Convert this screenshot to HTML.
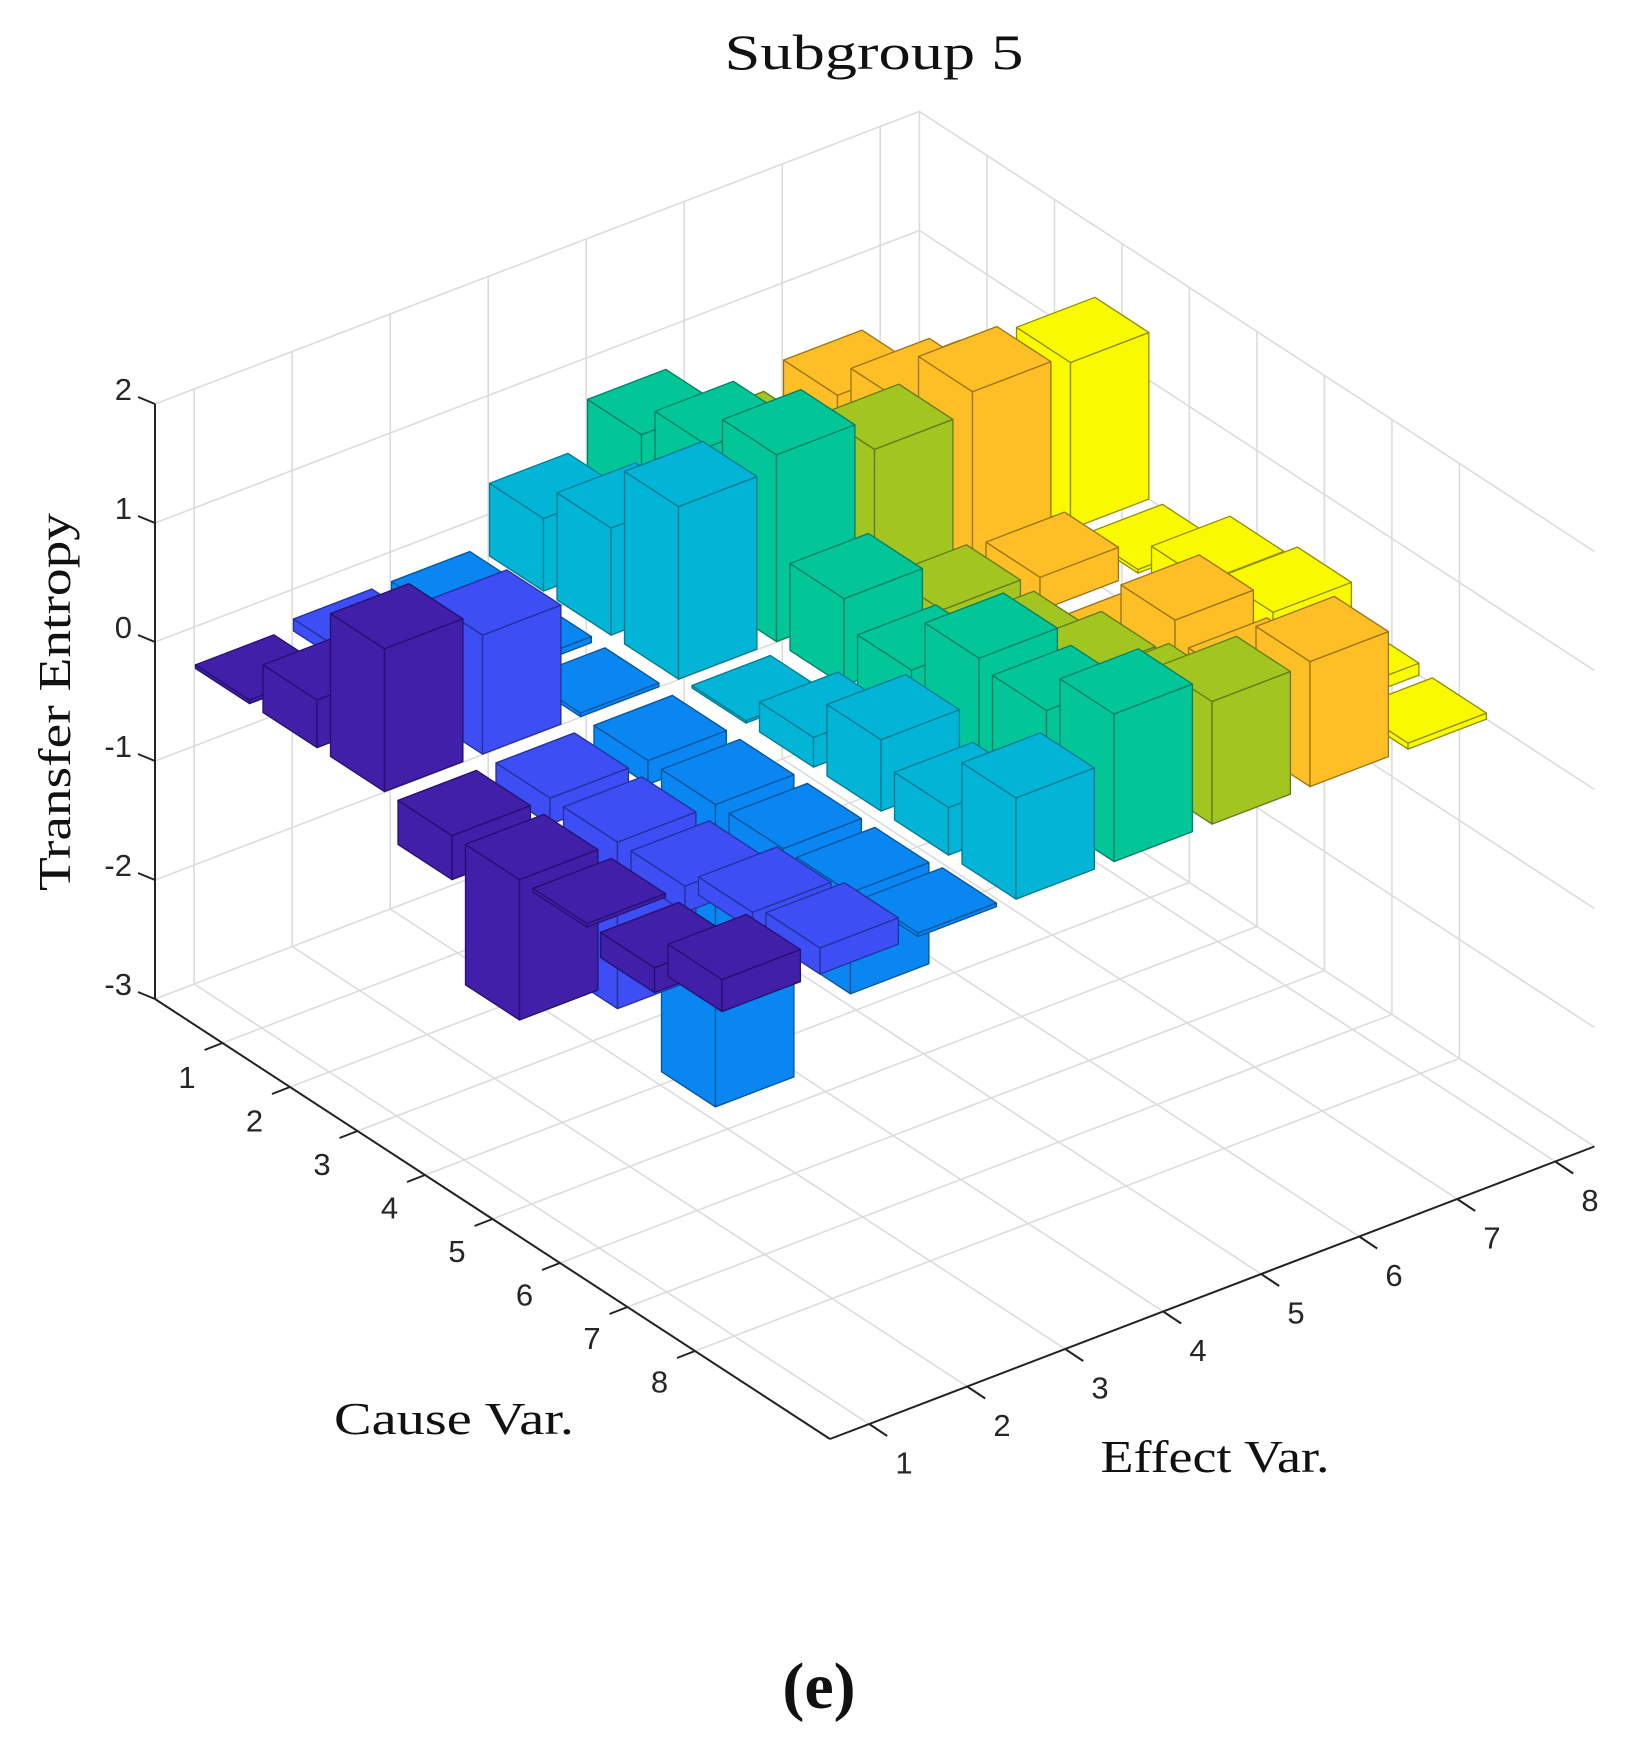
<!DOCTYPE html>
<html><head><meta charset="utf-8">
<style>
html,body{margin:0;padding:0;background:#fff;}
svg{display:block;}
</style></head>
<body>
<svg id="s" width="1632" height="1750" viewBox="0 0 1632 1750" xmlns="http://www.w3.org/2000/svg">
<rect width="1632" height="1750" fill="#fff"/>
<g id="grid" stroke="#dcdcdc" stroke-width="1.6" fill="none"></g>
<g id="bars" stroke-width="1.3" stroke-linejoin="round"></g>
<g id="axes" stroke="#222" stroke-width="2" fill="none"></g>
<g font-family="'Liberation Sans', Arial, sans-serif" font-size="31" fill="#262626">
<text x="132" y="400" text-anchor="end">2</text>
<text x="132" y="519" text-anchor="end">1</text>
<text x="132" y="638" text-anchor="end">0</text>
<text x="132" y="757" text-anchor="end">-1</text>
<text x="132" y="876" text-anchor="end">-2</text>
<text x="132" y="995" text-anchor="end">-3</text>
<g text-anchor="middle">
<text x="187" y="1088">1</text>
<text x="254.5" y="1131.5">2</text>
<text x="322" y="1175">3</text>
<text x="389.5" y="1218.5">4</text>
<text x="457" y="1262">5</text>
<text x="524.5" y="1305.5">6</text>
<text x="592" y="1349">7</text>
<text x="659.5" y="1392.5">8</text>
<text x="904" y="1473.5">1</text>
<text x="1002" y="1436">2</text>
<text x="1100" y="1398.5">3</text>
<text x="1198" y="1361">4</text>
<text x="1296" y="1323.5">5</text>
<text x="1394" y="1286">6</text>
<text x="1492" y="1248.5">7</text>
<text x="1590" y="1211">8</text>
</g>
</g>
<g font-family="'Liberation Serif', 'Times New Roman', serif" fill="#111">
<text x="874" y="69" font-size="50" text-anchor="middle" textLength="299" lengthAdjust="spacingAndGlyphs">Subgroup 5</text>
<text transform="translate(70,702) rotate(-90)" font-size="46" text-anchor="middle" textLength="378" lengthAdjust="spacingAndGlyphs">Transfer Entropy</text>
<text x="454" y="1434" font-size="46" text-anchor="middle" textLength="240" lengthAdjust="spacingAndGlyphs">Cause Var.</text>
<text x="1215" y="1472" font-size="46" text-anchor="middle" textLength="229" lengthAdjust="spacingAndGlyphs">Effect Var.</text>
<text x="819" y="1708" font-size="66" font-weight="bold" text-anchor="middle">(e)</text>
</g>
</svg>
<script>
(function(){
var NS="http://www.w3.org/2000/svg";
function P(i,j,z){return [96.2+67.5*i+98*j, 664.5+44*i-37.5*j-119*z];}
function line(g,a,b){var l=document.createElementNS(NS,"line");l.setAttribute("x1",a[0].toFixed(1));l.setAttribute("y1",a[1].toFixed(1));l.setAttribute("x2",b[0].toFixed(1));l.setAttribute("y2",b[1].toFixed(1));g.appendChild(l);}
var grid=document.getElementById("grid");
var j,i,z;
for(j=1;j<=8;j++){line(grid,P(0,j,-3),P(0,j,2));line(grid,P(0,j,-3),P(10,j,-3));}
for(z=-3;z<=2;z++){line(grid,P(0,0.6,z),P(0,8.4,z));line(grid,P(0,8.4,z),P(10,8.4,z));}
for(i=1;i<=8;i++){line(grid,P(i,8.4,-3),P(i,8.4,2));line(grid,P(i,0.6,-3),P(i,8.4,-3));}
line(grid,P(0,8.4,-3),P(0,8.4,2));
var ax=document.getElementById("axes");
line(ax,P(0,0.6,-3),P(0,0.6,2));
line(ax,P(0,0.6,-3),P(10,0.6,-3));
line(ax,P(10,0.6,-3),P(10,8.4,-3));
for(z=-3;z<=2;z++){var p=P(0,0.6,z);line(ax,p,[p[0]-17,p[1]-7]);}
for(i=1;i<=8;i++){var p=P(i,0.6,-3);line(ax,p,[p[0]-18,p[1]+7]);}
for(j=1;j<=8;j++){var p=P(10,j,-3);line(ax,p,[p[0]+18,p[1]+12]);}
var V=[
[0.03,0.4,1.2,-0.37,-1.18,-0.03,-0.21,0.27],
[0.1,0.1,1.0,-0.22,-1.4,-0.22,0.15,0.22],
[0.1,0.05,0.03,-0.2,-2.54,-0.25,-0.85,0.03],
[0.61,0.9,1.45,0.02,0.25,0.6,0.4,0.85],
[1.0,1.27,1.57,0.73,0.5,0.97,0.9,1.24],
[0.5,0.6,1.3,0.32,0.3,0.5,0.6,1.03],
[0.7,1.0,1.47,0.28,-0.1,0.66,0.5,1.05],
[0.3,0.5,1.4,0.03,0.3,0.41,0.1,0.05]];
var C=["#421FA8","#3E4EF5","#0A86F2","#02B4D6","#03C698","#A2C520","#FDBF25","#F9F900"];
var S=["#241070","#23309a","#05539a","#017a90","#027f62","#62791a","#9a7418","#8f8f00"];
var list=[];
for(j=1;j<=8;j++)for(i=1;i<=8;i++)list.push([i,j,V[j-1][i-1]]);
list.sort(function(a,b){return (44*a[0]-37.5*a[1])-(44*b[0]-37.5*b[1]);});
var bars=document.getElementById("bars");
function poly(pts,fill,stroke){var p=document.createElementNS(NS,"polygon");p.setAttribute("points",pts.map(function(q){return q[0].toFixed(1)+","+q[1].toFixed(1);}).join(" "));p.setAttribute("fill",fill);p.setAttribute("stroke",stroke);bars.appendChild(p);}
list.forEach(function(b){
 var i=b[0],j=b[1],v=b[2],zb=Math.min(0,v),zt=Math.max(0,v);
 if(Math.abs(v)<0.02){zt=zt+0.01;}
 var d=0.4,c=C[j-1],s=S[j-1];
 poly([P(i-d,j-d,zb),P(i+d,j-d,zb),P(i+d,j-d,zt),P(i-d,j-d,zt)],c,s);
 poly([P(i+d,j-d,zb),P(i+d,j+d,zb),P(i+d,j+d,zt),P(i+d,j-d,zt)],c,s);
 poly([P(i-d,j-d,zt),P(i+d,j-d,zt),P(i+d,j+d,zt),P(i-d,j+d,zt)],c,s);
});
})();
</script>
</body></html>
